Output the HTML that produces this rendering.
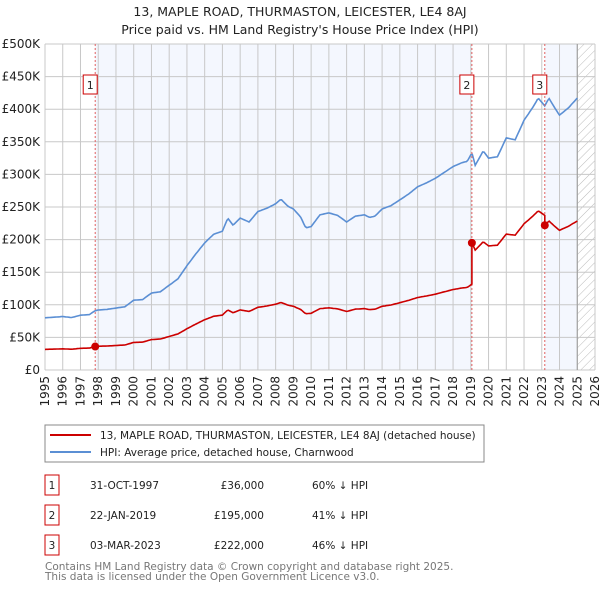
<!DOCTYPE html>
<html><head><meta charset="utf-8"><style>
body{margin:0;background:#fff;font-family:"DejaVu Sans","Liberation Sans",sans-serif;}
svg text{font-family:"DejaVu Sans","Liberation Sans",sans-serif;}
</style></head><body>
<svg id="chart" width="600" height="590" xmlns="http://www.w3.org/2000/svg">
<defs><pattern id="hatch" width="6" height="6" patternUnits="userSpaceOnUse" patternTransform="rotate(45)"><line x1="0" y1="0" x2="0" y2="6" stroke="#bbb" stroke-width="1"/></pattern></defs>
<text x="300" y="16" text-anchor="middle" font-size="12.5" fill="#222">13, MAPLE ROAD, THURMASTON, LEICESTER, LE4 8AJ</text>
<text x="300" y="34" text-anchor="middle" font-size="12.5" fill="#222">Price paid vs. HM Land Registry's House Price Index (HPI)</text>
<g id="plot"></g>
<rect x="45" y="425" width="439" height="37" fill="#fff" stroke="#888"/>
<line x1="50" y1="435" x2="91" y2="435" stroke="#cc0000" stroke-width="2"/>
<text x="100" y="439" font-size="10.5" fill="#222">13, MAPLE ROAD, THURMASTON, LEICESTER, LE4 8AJ (detached house)</text>
<line x1="50" y1="452" x2="91" y2="452" stroke="#5b8fd4" stroke-width="2"/>
<text x="100" y="456" font-size="10.5" fill="#222">HPI: Average price, detached house, Charnwood</text>
<g id="table" font-size="10.5" fill="#222"></g>
<text x="45" y="570" font-size="10.5" fill="#777">Contains HM Land Registry data © Crown copyright and database right 2025.</text>
<text x="45" y="580" font-size="10.5" fill="#777">This data is licensed under the Open Government Licence v3.0.</text>
</svg>
<script>
const hpiYears=[1995,1995.5,1996,1996.5,1997,1997.5,1997.83,1998,1998.5,1999,1999.5,2000,2000.5,2001,2001.5,2002,2002.5,2003,2003.5,2004,2004.5,2005,2005.3,2005.6,2006,2006.5,2007,2007.5,2008,2008.3,2008.7,2009,2009.4,2009.7,2010,2010.5,2011,2011.5,2012,2012.5,2013,2013.3,2013.6,2014,2014.5,2015,2015.5,2016,2016.5,2017,2017.5,2018,2018.5,2018.8,2019.06,2019.25,2019.7,2020,2020.5,2021,2021.5,2022,2022.5,2022.8,2023.17,2023.4,2023.8,2024,2024.5,2025];
const hpiValues=[80000,81000,82000,80500,84000,85000,91000,92000,93000,95000,97000,107000,108000,118000,120000,130000,140000,160000,178000,195000,208000,213000,233000,222000,233000,227000,243000,248000,255000,262000,251000,247000,235000,218000,220000,238000,241000,237000,227000,236000,238000,234000,236000,247000,252000,261000,270000,281000,287000,294000,303000,312000,318000,320000,333000,314000,336000,325000,327000,356000,353000,383000,403000,417000,405000,417000,399000,391000,402000,417000];
const saleYears=[1997.83,2019.06,2023.17];
const salePrices=[36000,195000,222000];
const saleDates=["31-OCT-1997","22-JAN-2019","03-MAR-2023"];
const saleLabels=["£36,000","£195,000","£222,000"];
const saleDiffs=["60% ↓ HPI","41% ↓ HPI","46% ↓ HPI"];
const yTicks=[0,50000,100000,150000,200000,250000,300000,350000,400000,450000,500000];
const yTickLabels=["£0","£50K","£100K","£150K","£200K","£250K","£300K","£350K","£400K","£450K","£500K"];
const xTicks=[];for(let y=1995;y<=2026;y++)xTicks.push(y);
const NS="http://www.w3.org/2000/svg";
const X0=45,X1=595,Y0=370,Y1=44;
const xs=t=>X0+(t-1995)/(2026-1995)*(X1-X0);
const ys=v=>Y0-v/500000*(Y0-Y1);
const plot=document.getElementById('plot');
function mk(tag,attrs,parent){const e=document.createElementNS(NS,tag);for(const k in attrs)e.setAttribute(k,attrs[k]);(parent||plot).appendChild(e);return e;}
function hpiAt(t){for(let i=0;i<hpiYears.length-1;i++){if(t<=hpiYears[i+1]){const f=(t-hpiYears[i])/(hpiYears[i+1]-hpiYears[i]);return hpiValues[i]+f*(hpiValues[i+1]-hpiValues[i]);}}return hpiValues[hpiValues.length-1];}
let bg=mk('rect',{x:X0,y:Y1,width:X1-X0,height:Y0-Y1,fill:'#fff'});


let s1=mk('rect',{x:xs(saleYears[0]),y:Y1,width:xs(saleYears[1])-xs(saleYears[0]),height:Y0-Y1,fill:'#f4f7fe'});


const endT=hpiYears[hpiYears.length-1];
let s2=mk('rect',{x:xs(saleYears[2]),y:Y1,width:xs(endT)-xs(saleYears[2]),height:Y0-Y1,fill:'#f4f7fe'});


let hz=mk('rect',{x:xs(endT),y:Y1,width:X1-xs(endT),height:Y0-Y1,fill:'url(#hatch)'});


yTicks.forEach((v,i)=>{
 let g=mk('line',{x1:X0,x2:X1,y1:ys(v),y2:ys(v),stroke:'#c8c8c8','stroke-width':1});
 
 
 let t=mk('text',{x:40,y:ys(v)+4,'text-anchor':'end','font-size':'12','fill':'#222'});t.textContent=yTickLabels[i];
 
 
});
xTicks.forEach(y=>{
 let g=mk('line',{x1:xs(y),x2:xs(y),y1:Y1,y2:Y0,stroke:'#c8c8c8','stroke-width':1});
 
 
 let t=mk('text',{x:0,y:0,'text-anchor':'end','font-size':'12',fill:'#222',transform:`translate(${xs(y)+4},376) rotate(-90)`});t.textContent=y;
 
 
});
let el=mk('line',{x1:xs(endT),x2:xs(endT),y1:Y1,y2:Y0,stroke:'#999','stroke-width':1});


let pts=[],rpts=[];
for(let t=1995;t<=endT+1e-6;t+=1/12){
 const h=hpiAt(t);pts.push(xs(t).toFixed(1)+','+ys(h).toFixed(1));
 let k=0;for(let j=0;j<saleYears.length;j++)if(t>=saleYears[j])k=j;
 const r=h*salePrices[k]/hpiAt(saleYears[k]);
 rpts.push(xs(t).toFixed(1)+','+ys(r).toFixed(1));
 for(let j=1;j<saleYears.length;j++){if(t<saleYears[j]&&t+1/12>=saleYears[j]){const h2=hpiAt(saleYears[j]);rpts.push(xs(saleYears[j]).toFixed(1)+','+ys(h2*salePrices[j-1]/hpiAt(saleYears[j-1])).toFixed(1));rpts.push(xs(saleYears[j]).toFixed(1)+','+ys(salePrices[j]).toFixed(1));}}
}
let hl=mk('polyline',{points:pts.join(' '),fill:'none',stroke:'#5b8fd4','stroke-width':1.6});


saleYears.forEach((t,i)=>{
 let v=mk('line',{x1:xs(t),x2:xs(t),y1:Y1,y2:Y0,stroke:'#e06060','stroke-width':1,'stroke-dasharray':'2,2'});
 
 
 let b=mk('rect',{x:xs(t)-12,y:75,width:14,height:19,fill:'#fff',stroke:'#cc0000'});
 
 
 let tx=mk('text',{x:xs(t)-5,y:89,'text-anchor':'middle','font-size':'11',fill:'#222'});tx.textContent=i+1;
 
 
});
let rl=mk('polyline',{points:rpts.join(' '),fill:'none',stroke:'#cc0000','stroke-width':1.6});


saleYears.forEach((t,i)=>{
 let c=mk('circle',{cx:xs(t),cy:ys(salePrices[i]),r:4,fill:'#cc0000'});
 
 
});
const tbl=document.getElementById('table');
saleYears.forEach((t,i)=>{
 const cy=483+i*30;
 let b=mk('rect',{x:45,y:cy-8,width:14,height:20,fill:'#fff',stroke:'#cc0000'},tbl);
 
 
 const cells=[[52,'middle',String(i+1)],[90,'start',saleDates[i]],[264,'end',saleLabels[i]],[312,'start',saleDiffs[i]]];
 cells.forEach(c=>{let e=mk('text',{x:c[0],y:cy+6,'text-anchor':c[1],'font-size':'10.5',fill:'#222'},tbl);e.textContent=c[2];
 
 });
});
</script>
</body></html>
